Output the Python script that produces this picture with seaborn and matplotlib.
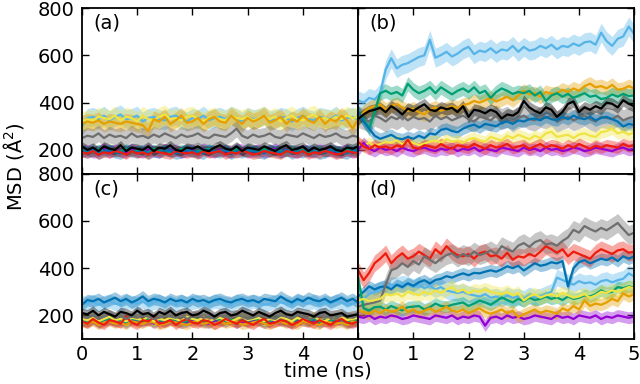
import numpy as np
import matplotlib
matplotlib.use("Agg")
import matplotlib.pyplot as plt
import seaborn as sns

# ---------------- data ----------------
time_ns = np.linspace(0, 5, 51)

colors = {"lightblue": "#56B4E9", "orange": "#E69F00", "green": "#009E73", "yellow": "#F0E442",
          "darkblue": "#0072B2", "purple": "#9400D3", "red": "#EE1C0E", "gray": "#6E6E6E", "black": "#000000"}

# panel (a)
a_lightblue = [300, 335, 340, 330, 345, 325, 340, 350, 330, 335, 345, 320, 335, 340, 330, 325, 340, 345, 330, 320, 335, 330, 345, 325, 335, 340, 330, 345, 335, 320, 340, 330, 335, 345, 325, 330, 340, 335, 320, 335, 345, 330, 325, 340, 335, 330, 345, 325, 335, 340, 330]
a_yellow = [320, 330, 325, 340, 335, 330, 345, 325, 340, 335, 320, 345, 330, 325, 340, 350, 330, 335, 325, 340, 345, 330, 320, 335, 340, 330, 325, 345, 335, 330, 340, 325, 335, 345, 330, 340, 320, 335, 345, 330, 325, 340, 350, 330, 335, 325, 340, 330, 345, 335, 340]
a_orange = [310, 320, 315, 325, 310, 320, 315, 310, 320, 315, 310, 305, 280, 330, 320, 340, 310, 325, 345, 315, 320, 335, 310, 330, 340, 320, 315, 345, 325, 310, 335, 320, 330, 345, 315, 325, 340, 310, 330, 320, 345, 325, 315, 340, 310, 330, 320, 345, 325, 290, 330]
a_gray = [250, 260, 255, 270, 250, 265, 255, 260, 250, 270, 255, 260, 250, 265, 255, 270, 260, 250, 265, 255, 260, 270, 255, 250, 265, 260, 255, 270, 290, 260, 250, 265, 255, 260, 270, 255, 250, 265, 260, 255, 270, 260, 250, 265, 255, 260, 270, 255, 250, 260, 255]
a_black = [215, 200, 210, 195, 215, 205, 200, 220, 195, 210, 205, 200, 215, 195, 210, 205, 220, 200, 195, 210, 205, 215, 200, 195, 210, 220, 205, 200, 215, 195, 210, 205, 200, 215, 205, 195, 210, 220, 200, 205, 215, 195, 210, 200, 205, 215, 200, 195, 210, 205, 215]
a_red = [190, 185, 195, 180, 190, 185, 195, 190, 180, 195, 185, 190, 180, 195, 190, 185, 180, 195, 190, 185, 190, 180, 195, 185, 190, 195, 180, 190, 185, 195, 190, 180, 185, 195, 190, 185, 180, 195, 190, 185, 195, 180, 190, 185, 195, 190, 180, 185, 195, 190, 185]
a_darkblue = [195, 190, 200, 185, 195, 200, 190, 185, 200, 195, 190, 200, 185, 195, 190, 200, 195, 185, 190, 200, 195, 190, 185, 200, 195, 190, 200, 185, 195, 190, 200, 195, 190, 185, 200, 195, 190, 200, 185, 195, 190, 200, 195, 185, 190, 200, 195, 190, 185, 200, 195]
a_green = [200, 195, 190, 205, 195, 200, 190, 195, 205, 190, 200, 195, 190, 205, 195, 200, 190, 195, 205, 200, 190, 195, 200, 205, 190, 195, 200, 190, 205, 195, 190, 200, 195, 205, 190, 200, 195, 190, 205, 195, 200, 190, 195, 205, 190, 200, 195, 190, 205, 195, 200]
a_purple = [195, 200, 190, 195, 205, 190, 200, 195, 190, 205, 195, 190, 200, 195, 190, 205, 195, 200, 190, 195, 200, 190, 205, 195, 190, 200, 195, 190, 205, 200, 190, 195, 200, 190, 195, 205, 190, 200, 195, 190, 200, 195, 190, 205, 195, 200, 190, 195, 200, 190, 195]

# panel (b)
b_lightblue = [410, 400, 420, 413, 440, 540, 588, 545, 560, 567, 580, 593, 600, 666, 590, 601, 615, 595, 607, 625, 636, 605, 620, 614, 630, 610, 625, 620, 640, 615, 636, 620, 625, 640, 630, 645, 625, 640, 635, 650, 640, 655, 659, 645, 696, 660, 640, 670, 680, 722, 690]
b_orange = [330, 360, 378, 385, 393, 370, 385, 395, 380, 365, 375, 360, 350, 370, 380, 365, 375, 385, 378, 390, 395, 407, 400, 410, 420, 405, 415, 425, 410, 430, 450, 435, 440, 425, 445, 437, 440, 455, 445, 460, 450, 470, 480, 465, 470, 460, 475, 455, 458, 470, 460]
b_green = [360, 330, 290, 360, 440, 450, 437, 445, 430, 480, 455, 440, 450, 465, 440, 465, 450, 435, 450, 460, 445, 465, 440, 450, 420, 445, 460, 450, 437, 445, 440, 450, 430, 445, 407, 430, 440, 425, 437, 420, 430, 440, 425, 430, 415, 420, 435, 425, 437, 428, 430]
b_black = [330, 350, 364, 370, 378, 360, 385, 370, 350, 375, 365, 380, 393, 370, 364, 380, 372, 378, 360, 385, 340, 370, 365, 355, 370, 360, 333, 350, 345, 360, 407, 380, 365, 355, 380, 370, 340, 360, 395, 405, 360, 380, 370, 385, 375, 400, 395, 380, 410, 395, 385]
b_gray = [340, 330, 320, 345, 335, 320, 340, 330, 345, 325, 340, 330, 335, 320, 345, 330, 340, 325, 335, 345, 330, 320, 340, 335, 325, 345, 330, 340, 320, 335, 345, 330, 325, 340, 335, 345, 320, 330, 340, 325, 335, 345, 330, 320, 340, 335, 330, 345, 325, 335, 340]
b_darkblue = [364, 320, 290, 260, 247, 255, 264, 250, 245, 255, 247, 260, 250, 270, 265, 285, 290, 280, 275, 290, 300, 307, 295, 310, 305, 300, 315, 320, 310, 325, 320, 330, 333, 325, 340, 330, 325, 340, 330, 345, 335, 330, 340, 325, 335, 340, 330, 320, 299, 310, 305]
b_yellow = [225, 220, 230, 215, 225, 234, 230, 240, 225, 235, 230, 220, 227, 235, 240, 230, 245, 235, 240, 230, 245, 250, 240, 235, 255, 247, 240, 260, 250, 264, 255, 245, 260, 250, 270, 277, 255, 260, 264, 250, 265, 270, 260, 255, 275, 280, 290, 270, 277, 265, 275]
b_red = [234, 215, 204, 220, 210, 215, 205, 220, 212, 242, 210, 205, 220, 215, 208, 225, 212, 205, 220, 215, 210, 225, 215, 205, 220, 210, 215, 225, 208, 215, 220, 205, 215, 225, 210, 220, 215, 205, 220, 210, 225, 215, 205, 218, 210, 220, 215, 210, 225, 215, 220]
b_purple = [200, 230, 205, 195, 210, 200, 205, 195, 210, 200, 195, 205, 210, 200, 195, 205, 200, 210, 195, 205, 200, 210, 195, 205, 200, 195, 210, 205, 200, 195, 210, 200, 205, 195, 210, 200, 205, 195, 200, 210, 205, 195, 200, 210, 205, 200, 195, 205, 210, 200, 205]

# panel (c)
c_darkblue = [245, 265, 260, 270, 255, 265, 275, 260, 270, 255, 265, 280, 260, 270, 265, 255, 270, 260, 265, 255, 270, 260, 265, 255, 265, 270, 260, 255, 265, 270, 260, 265, 255, 270, 265, 260, 280, 265, 255, 270, 260, 275, 265, 260, 270, 255, 265, 275, 260, 270, 255]
c_lightblue = [255, 250, 260, 245, 255, 260, 250, 245, 260, 255, 250, 260, 245, 255, 260, 250, 255, 245, 260, 250, 255, 260, 245, 250, 260, 255, 250, 245, 260, 255, 250, 260, 255, 245, 250, 260, 255, 250, 245, 260, 255, 250, 260, 245, 255, 250, 260, 255, 245, 250, 255]
c_black = [210, 205, 220, 200, 215, 205, 195, 215, 210, 200, 220, 205, 210, 195, 215, 205, 220, 200, 210, 215, 200, 205, 220, 210, 195, 210, 215, 200, 205, 220, 210, 200, 215, 205, 195, 210, 220, 205, 200, 215, 210, 205, 195, 210, 215, 200, 205, 210, 195, 200, 205]
c_gray = [195, 190, 200, 185, 195, 205, 190, 200, 185, 195, 190, 200, 195, 185, 190, 200, 195, 190, 205, 185, 195, 200, 190, 195, 185, 200, 195, 190, 205, 195, 185, 190, 200, 195, 190, 185, 200, 195, 190, 205, 195, 185, 190, 200, 195, 190, 185, 200, 195, 190, 200]
c_red = [175, 165, 185, 170, 160, 180, 175, 165, 195, 170, 160, 180, 175, 190, 165, 170, 180, 160, 175, 185, 170, 165, 180, 175, 160, 170, 185, 175, 165, 180, 170, 160, 175, 185, 165, 170, 180, 175, 160, 170, 185, 175, 165, 180, 170, 160, 175, 185, 170, 165, 175]
c_yellow = [185, 180, 190, 175, 185, 195, 180, 185, 175, 190, 185, 180, 195, 175, 185, 180, 190, 185, 175, 195, 185, 180, 190, 175, 185, 190, 180, 175, 185, 195, 180, 185, 190, 175, 185, 180, 195, 185, 175, 190, 180, 185, 195, 180, 175, 190, 185, 195, 180, 185, 190]
c_orange = [170, 165, 175, 160, 170, 175, 165, 170, 160, 175, 170, 165, 175, 170, 160, 165, 175, 170, 165, 160, 170, 175, 165, 170, 160, 175, 165, 170, 175, 160, 165, 170, 175, 165, 160, 170, 175, 165, 170, 160, 175, 170, 165, 160, 175, 170, 165, 170, 160, 175, 170]
c_green = [180, 175, 185, 170, 180, 185, 175, 180, 170, 185, 180, 175, 185, 170, 180, 175, 185, 180, 170, 175, 185, 180, 175, 170, 185, 180, 175, 185, 170, 180, 175, 185, 180, 170, 175, 185, 180, 175, 170, 185, 180, 175, 185, 170, 180, 175, 185, 180, 170, 175, 180]
c_purple = [175, 170, 180, 165, 175, 180, 170, 175, 165, 180, 175, 170, 180, 165, 175, 170, 180, 175, 165, 170, 180, 175, 170, 165, 180, 175, 170, 180, 165, 175, 170, 180, 175, 165, 170, 180, 175, 170, 165, 180, 175, 170, 180, 165, 175, 170, 180, 175, 165, 170, 175]

# panel (d)
d_gray = [237, 245, 250, 255, 263, 330, 391, 400, 421, 405, 430, 415, 450, 435, 421, 440, 455, 463, 445, 460, 450, 470, 455, 463, 475, 460, 493, 480, 470, 495, 506, 490, 510, 519, 500, 505, 495, 515, 530, 562, 550, 578, 565, 555, 570, 560, 575, 591, 565, 540, 550]
d_red = [391, 349, 380, 421, 440, 463, 421, 445, 463, 440, 450, 470, 455, 440, 480, 460, 493, 470, 455, 450, 460, 440, 463, 470, 450, 455, 440, 465, 436, 450, 445, 460, 450, 470, 493, 480, 465, 480, 450, 470, 460, 450, 440, 465, 480, 470, 460, 475, 480, 465, 470]
d_darkblue = [280, 300, 323, 310, 320, 323, 310, 330, 320, 336, 325, 340, 349, 335, 350, 355, 366, 360, 370, 378, 370, 380, 378, 385, 391, 385, 395, 408, 400, 410, 390, 405, 421, 410, 415, 425, 420, 430, 323, 400, 425, 434, 420, 430, 440, 434, 445, 430, 450, 440, 450]
d_lightblue = [250, 270, 290, 300, 310, 320, 330, 325, 335, 330, 320, 330, 315, 325, 310, 320, 305, 300, 295, 300, 290, 285, 280, 290, 275, 280, 270, 285, 275, 280, 270, 285, 275, 280, 290, 300, 360, 350, 340, 330, 345, 336, 340, 330, 345, 350, 340, 349, 355, 378, 365]
d_yellow = [263, 270, 260, 265, 270, 290, 285, 293, 280, 300, 293, 285, 300, 290, 306, 295, 310, 320, 300, 310, 293, 305, 300, 310, 300, 295, 290, 300, 285, 295, 263, 280, 290, 275, 285, 290, 280, 295, 285, 275, 280, 290, 275, 285, 300, 295, 306, 300, 310, 320, 315]
d_green = [360, 230, 221, 235, 237, 225, 240, 230, 221, 235, 237, 240, 225, 235, 250, 240, 237, 245, 250, 255, 240, 250, 263, 255, 245, 260, 276, 265, 255, 270, 260, 275, 265, 270, 280, 270, 276, 265, 280, 270, 275, 285, 280, 290, 306, 295, 300, 320, 315, 323, 318]
d_orange = [221, 215, 207, 220, 210, 225, 215, 221, 237, 215, 225, 210, 220, 230, 215, 225, 237, 220, 215, 225, 210, 220, 230, 215, 207, 215, 225, 210, 220, 193, 205, 215, 225, 210, 220, 215, 207, 230, 220, 240, 225, 263, 240, 250, 245, 255, 270, 260, 293, 280, 290]
d_purple = [195, 190, 200, 185, 195, 190, 200, 195, 185, 190, 200, 195, 190, 185, 200, 195, 190, 200, 185, 195, 190, 200, 195, 157, 190, 195, 185, 200, 190, 195, 185, 190, 200, 195, 190, 185, 200, 190, 195, 185, 200, 195, 190, 200, 185, 195, 190, 200, 195, 190, 195]

# band half-widths (spread) per series
a_spread = {"lightblue": 40, "yellow": 40, "orange": 35, "gray": 35, "black": 20, "red": 20, "darkblue": 25, "green": 20, "purple": 25}
b_spread = {"lightblue": 40, "orange": 30, "green": 30, "black": 25, "gray": 45, "darkblue": 25, "yellow": 25, "red": 25, "purple": 25}
c_spread = {"darkblue": 25, "lightblue": 30, "black": 20, "gray": 20, "red": 20, "yellow": 20, "orange": 20, "green": 20, "purple": 20}
d_spread = {"gray": 40, "red": 35, "darkblue": 25, "lightblue": 35, "yellow": 30, "green": 25, "orange": 25, "purple": 25}

panels = [
    ("(a)", {"lightblue": a_lightblue, "yellow": a_yellow, "orange": a_orange, "gray": a_gray, "purple": a_purple,
             "green": a_green, "darkblue": a_darkblue, "red": a_red, "black": a_black}, a_spread),
    ("(b)", {"lightblue": b_lightblue, "gray": b_gray, "orange": b_orange, "green": b_green, "darkblue": b_darkblue,
             "yellow": b_yellow, "purple": b_purple, "red": b_red, "black": b_black}, b_spread),
    ("(c)", {"lightblue": c_lightblue, "darkblue": c_darkblue, "purple": c_purple, "green": c_green, "orange": c_orange,
             "yellow": c_yellow, "red": c_red, "gray": c_gray, "black": c_black}, c_spread),
    ("(d)", {"lightblue": d_lightblue, "darkblue": d_darkblue, "red": d_red, "gray": d_gray, "purple": d_purple,
             "green": d_green, "yellow": d_yellow, "orange": d_orange}, d_spread),
]

# ---------------- plot ----------------
sns.set_style("ticks")
plt.rcParams["font.family"] = ["DejaVu Sans"]
plt.rcParams["font.size"] = 14
for key in ["text.color", "axes.labelcolor", "xtick.color", "ytick.color", "axes.edgecolor"]:
    plt.rcParams[key] = "black"

fig, axes = plt.subplots(2, 2, figsize=(6.4, 3.84), dpi=100)
fig.subplots_adjust(left=0.128, right=0.991, top=0.979, bottom=0.117, wspace=0, hspace=0)

for idx, (ax, (label, data, spread)) in enumerate(zip(axes.flat, panels)):
    for name, vals in data.items():
        v = np.asarray(vals, dtype=float)
        w = spread[name]
        ax.fill_between(time_ns, v - w, v + w, color=colors[name], alpha=0.38, lw=0)
        sns.lineplot(x=time_ns, y=v, color=colors[name], lw=1.6, ax=ax)
    ax.set_xlim(0, 5)
    ax.set_ylim(100, 800)
    ax.set_yticks([200, 400, 600, 800])
    ax.set_xticks([0, 1, 2, 3, 4, 5])
    ax.tick_params(direction="in", top=True, right=True, length=5, width=1,
                   labelsize=14, colors="black")
    ax.tick_params(axis="x", pad=4)
    ax.tick_params(axis="y", pad=5)
    for s in ax.spines.values():
        s.set_linewidth(1.3)
        s.set_color("black")
    ax.set_xlabel("")
    ax.set_ylabel("")
    ax.text(0.04, 0.965, label, transform=ax.transAxes, ha="left", va="top", fontsize=14, color="black")
    row, col = divmod(idx, 2)
    if row == 0:
        ax.set_xticklabels([])
    else:
        if col == 0:
            ax.set_xticklabels(["0", "1", "2", "3", "4", ""])
        else:
            ax.set_xticklabels(["0", "1", "2", "3", "4", "5"])
    if col == 1:
        ax.set_yticklabels([])
    else:
        ax.set_yticklabels(["200", "400", "600", "800"])

fig.text(0.021, 0.565, "MSD (Å$^2$)", rotation=90, ha="center", va="center", fontsize=14, color="black")
fig.text(0.512, 0.008, "time (ns)", ha="center", va="bottom", fontsize=14, color="black")

fig.savefig("out.png", dpi=100)
